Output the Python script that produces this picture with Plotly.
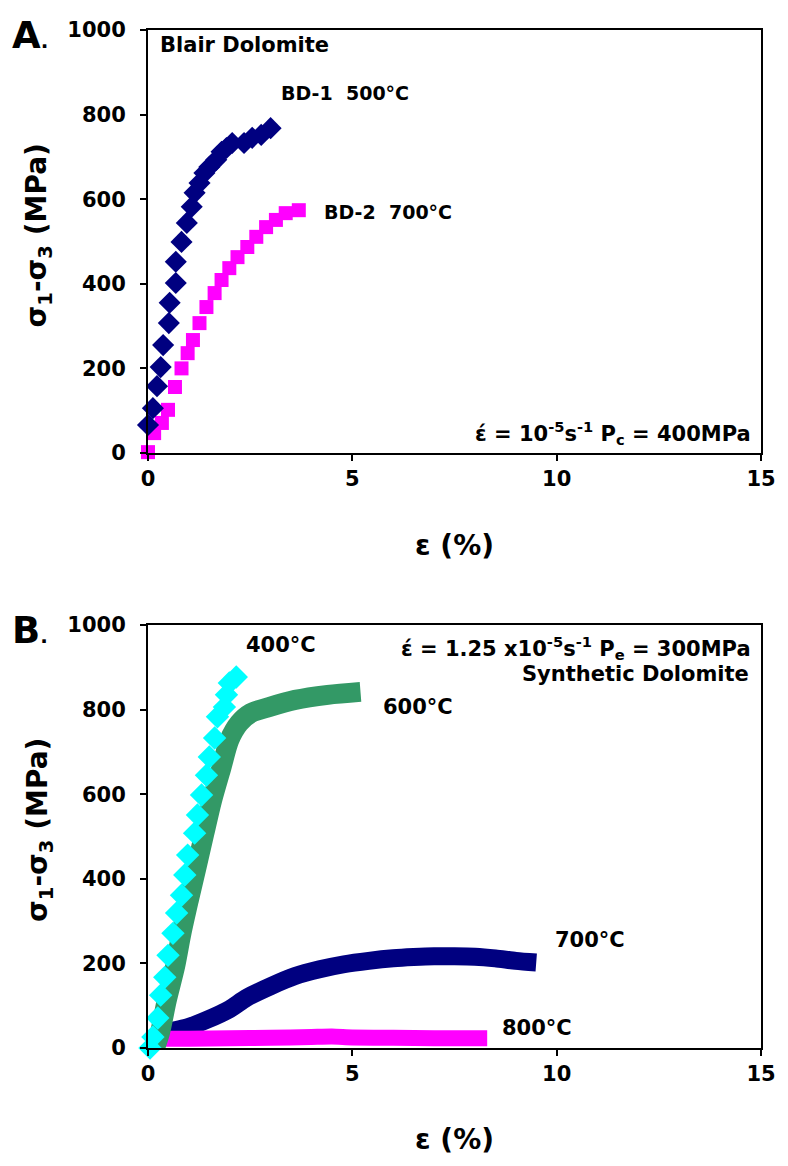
import plotly.graph_objects as go

# ---------------- Panel A: Blair Dolomite ----------------
bd1_strain = [0.0, 0.12, 0.22, 0.31, 0.37, 0.51, 0.53, 0.68, 0.68, 0.82, 0.95, 1.07, 1.14, 1.26,
              1.38, 1.50, 1.67, 1.80, 1.92, 2.06, 2.35, 2.55, 2.77, 3.00]
bd1_stress = [66, 106, 158, 203, 255, 307, 355, 402, 452, 499, 544, 582, 615, 638,
              662, 676, 693, 712, 721, 733, 733, 745, 752, 768]

bd2_strain = [0.0, 0.15, 0.34, 0.49, 0.66, 0.82, 0.97, 1.10, 1.26, 1.43, 1.63, 1.80, 1.99, 2.19,
              2.43, 2.65, 2.89, 3.13, 3.37, 3.69]
bd2_stress = [2, 47, 71, 102, 156, 200, 236, 267, 307, 345, 378, 409, 437, 463,
              487, 511, 534, 551, 567, 574]

# ---------------- Panel B: Synthetic Dolomite ----------------
t400_strain = [0.05, 0.12, 0.24, 0.31, 0.41, 0.49, 0.61, 0.70, 0.82, 0.90, 0.97, 1.14, 1.21, 1.31,
               1.43, 1.50, 1.63, 1.70, 1.87, 1.92, 1.99, 2.16]
t400_stress = [0, 26, 71, 125, 167, 219, 271, 319, 361, 409, 456, 508, 551, 598,
               645, 688, 733, 783, 806, 835, 863, 877]

t600_strain = [0.17, 0.29, 0.46, 0.66, 0.82, 1.00, 1.19, 1.38, 1.57, 1.80, 1.99, 2.23, 2.52, 2.96,
               3.60, 4.40, 5.20]
t600_stress = [0, 35, 113, 191, 272, 350, 428, 508, 586, 664, 728, 768, 792, 806,
               823, 835, 842]

t700_strain = [0.37, 1.0, 1.43, 2.0, 2.4, 3.0, 3.6, 4.2, 4.8, 5.4, 6.0, 6.5, 7.0, 7.5, 8.0,
               8.5, 9.0, 9.5]
t700_stress = [36, 50, 66, 92, 118, 146, 170, 186, 198, 206, 212, 215, 217, 217, 216,
               212, 206, 202]

t800_strain = [0.0, 1.0, 2.0, 3.0, 4.0, 4.5, 5.0, 6.0, 7.0, 8.3]
t800_stress = [22, 22, 23, 24, 26, 27, 25, 24, 23, 23]

x_ticks = [0, 5, 10, 15]
y_ticks = [0, 200, 400, 600, 800, 1000]

NAVY = "#000080"
MAGENTA = "#FF00FF"
CYAN = "#00FFFF"
GREEN = "#339966"
FONT = "DejaVu Sans"

fig = go.Figure()

fig.add_trace(go.Scatter(x=bd2_strain, y=bd2_stress, mode="markers",
                         marker=dict(symbol="square", size=14, color=MAGENTA),
                         cliponaxis=False, xaxis="x", yaxis="y", showlegend=False))
fig.add_trace(go.Scatter(x=bd1_strain, y=bd1_stress, mode="markers",
                         marker=dict(symbol="diamond", size=17, color=NAVY),
                         cliponaxis=False, xaxis="x", yaxis="y", showlegend=False))

fig.add_trace(go.Scatter(x=t700_strain, y=t700_stress, mode="lines",
                         line=dict(color=NAVY, width=18, shape="spline", smoothing=0.7),
                         xaxis="x2", yaxis="y2", showlegend=False))
fig.add_trace(go.Scatter(x=t800_strain, y=t800_stress, mode="lines",
                         line=dict(color=MAGENTA, width=16, shape="spline", smoothing=0.7),
                         cliponaxis=False, xaxis="x2", yaxis="y2", showlegend=False))
fig.add_trace(go.Scatter(x=t600_strain, y=t600_stress, mode="lines",
                         line=dict(color=GREEN, width=20, shape="spline", smoothing=0.8),
                         cliponaxis=False, xaxis="x2", yaxis="y2", showlegend=False))
fig.add_trace(go.Scatter(x=t400_strain, y=t400_stress, mode="markers",
                         marker=dict(symbol="diamond", size=18, color=CYAN),
                         cliponaxis=False, xaxis="x2", yaxis="y2", showlegend=False))

axis_common = dict(
    showline=True, linecolor="black", linewidth=2, mirror=True,
    ticks="outside", ticklen=6, tickwidth=2, tickcolor="black",
    showgrid=False, zeroline=False,
    tickfont=dict(family=FONT, size=21, color="black", weight="bold"),
)

fig.update_layout(
    width=788, height=1166,
    margin=dict(l=148, r=22, t=30, b=118),
    paper_bgcolor="white", plot_bgcolor="white",
    xaxis=dict(domain=[0, 1], anchor="y", range=[0, 15], tickvals=x_ticks, **axis_common),
    yaxis=dict(domain=[0.5845, 1], anchor="x", range=[0, 1000], tickvals=y_ticks,
               ticklabelstandoff=10, **axis_common),
    xaxis2=dict(domain=[0, 1], anchor="y2", range=[0, 15], tickvals=x_ticks, **axis_common),
    yaxis2=dict(domain=[0, 0.4155], anchor="x2", range=[0, 1000], tickvals=y_ticks,
                ticklabelstandoff=10, **axis_common),
)

def ann(text, x, y, xref, yref, size=18, xanchor="left", yanchor="middle", angle=0):
    fig.add_annotation(text=text, x=x, y=y, xref=xref, yref=yref, showarrow=False,
                       xanchor=xanchor, yanchor=yanchor, textangle=angle,
                       font=dict(family=FONT, size=size, color="black", weight="bold"))

YTITLE = "σ<sub>1</sub>-σ<sub>3</sub> (MPa)"

# Panel A texts
ann("A<span style='font-size:20px'>.</span>", -0.225, 0.995, "paper", "paper", size=37)
ann("Blair Dolomite", 0.24, 965, "x", "y", size=21)
ann("BD-1  500°C", 3.2, 851, "x", "y", size=19)
ann("BD-2  700°C", 4.25, 570, "x", "y", size=19)
ann("έ = 10<sup>-5</sup>s<sup>-1</sup> P<sub>c</sub> = 400MPa", 14.8, 47, "x", "y",
    size=21, xanchor="right")
ann("ε (%)", 0.5, 0.494, "paper", "paper", size=28, xanchor="center")
ann(YTITLE, -0.178, 0.798, "paper", "paper", size=28, xanchor="center", angle=-90)

# Panel B texts
ann("B<span style='font-size:20px'>.</span>", -0.225, 0.4106, "paper", "paper", size=37)
ann("400°C", 2.35, 953, "x2", "y2", size=21)
ann("600°C", 5.7, 806, "x2", "y2", size=21)
ann("700°C", 9.9, 255, "x2", "y2", size=21)
ann("800°C", 8.62, 47, "x2", "y2", size=21)
ann("έ = 1.25 x10<sup>-5</sup>s<sup>-1</sup> P<sub>e</sub> = 300MPa", 14.8, 946, "x2", "y2",
    size=21, xanchor="right")
ann("Synthetic Dolomite", 14.75, 884, "x2", "y2", size=21, xanchor="right")
ann("ε (%)", 0.5, -0.090, "paper", "paper", size=28, xanchor="center")
ann(YTITLE, -0.178, 0.214, "paper", "paper", size=28, xanchor="center", angle=-90)

fig.write_html("out.html")
